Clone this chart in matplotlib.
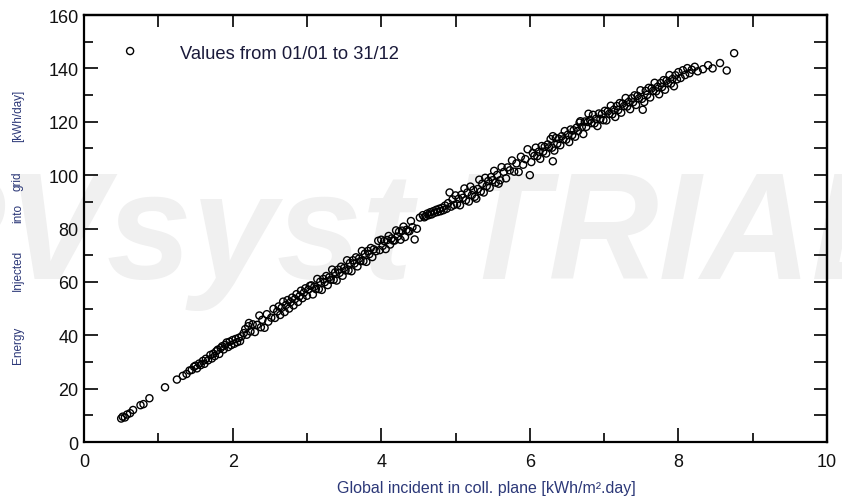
import matplotlib
matplotlib.use("Agg")
import matplotlib.pyplot as plt
from matplotlib.ticker import MultipleLocator

plt.rcParams["font.family"] = ["Liberation Sans", "DejaVu Sans"]

# daily values: global incident irradiation vs energy to grid
irrad = [
    0.50, 0.52, 0.55, 0.58, 0.62, 0.66, 0.76, 0.80, 0.88, 1.09, 1.25, 1.33,
    1.38, 1.42, 1.45, 1.48, 1.50, 1.52, 1.55, 1.57, 1.60, 1.62,
    1.64, 1.67, 1.70, 1.72, 1.74, 1.76, 1.78, 1.80, 1.82, 1.84,
    1.86, 1.88, 1.90, 1.92, 1.94, 1.96, 1.98, 2.00, 2.02, 2.04,
    2.06, 2.08, 2.10, 2.12, 2.15, 2.17, 2.19, 2.21, 2.22, 2.24,
    2.27, 2.30, 2.33, 2.36, 2.38, 2.40, 2.43, 2.46, 2.48, 2.52,
    2.55, 2.57, 2.60, 2.62, 2.64, 2.66, 2.68, 2.70, 2.72, 2.74,
    2.76, 2.78, 2.80, 2.82, 2.84, 2.86, 2.88, 2.90, 2.92, 2.94,
    2.96, 2.98, 3.00, 3.02, 3.04,
    3.06, 3.08, 3.10, 3.12, 3.14, 3.16, 3.18, 3.20, 3.22, 3.24,
    3.26, 3.28, 3.30, 3.32, 3.34, 3.36, 3.38, 3.40, 3.42, 3.44,
    3.46, 3.48, 3.50, 3.52, 3.54, 3.56, 3.58, 3.60, 3.62, 3.64,
    3.66, 3.68, 3.70, 3.72, 3.74, 3.76, 3.78, 3.80, 3.82, 3.84,
    3.86, 3.88, 3.90, 3.93, 3.96,
    3.98, 4.00, 4.02, 4.04, 4.06, 4.08, 4.10, 4.12, 4.14, 4.16,
    4.18, 4.20, 4.22, 4.24, 4.26, 4.28, 4.30, 4.32, 4.34, 4.36,
    4.38, 4.40, 4.42, 4.45, 4.48, 4.52, 4.56, 4.58, 4.60, 4.62,
    4.64, 4.66, 4.68, 4.70, 4.72, 4.74, 4.76, 4.78, 4.80, 4.82,
    4.84, 4.86, 4.88, 4.90, 4.92, 4.94, 4.96, 4.98,
    5.00, 5.02, 5.04, 5.06, 5.08, 5.10, 5.12, 5.14, 5.16, 5.18,
    5.20, 5.22, 5.24, 5.26, 5.28, 5.30, 5.32, 5.34, 5.36, 5.38,
    5.40, 5.42, 5.44, 5.46, 5.48, 5.50, 5.52, 5.54, 5.56, 5.58,
    5.60, 5.62, 5.65, 5.68, 5.70, 5.73, 5.76, 5.79, 5.82, 5.85,
    5.88, 5.91, 5.94, 5.97, 6.00,
    6.02, 6.04, 6.06, 6.08, 6.10, 6.12, 6.14, 6.16, 6.18, 6.20,
    6.22, 6.24, 6.26, 6.28, 6.30, 6.31, 6.33, 6.35, 6.37, 6.39,
    6.41, 6.43, 6.45, 6.47, 6.49, 6.51, 6.53, 6.55, 6.57, 6.59,
    6.61, 6.63, 6.65, 6.67, 6.68, 6.70, 6.72, 6.74, 6.76, 6.78,
    6.79, 6.81, 6.83, 6.85, 6.87, 6.89, 6.91, 6.93, 6.95, 6.97,
    6.99, 6.31,
    7.01, 7.03, 7.05, 7.07, 7.09, 7.11, 7.13, 7.15, 7.17, 7.19,
    7.21, 7.23, 7.25, 7.27, 7.29, 7.31, 7.33, 7.35, 7.37, 7.39,
    7.41, 7.43, 7.45, 7.47, 7.49, 7.51, 7.52, 7.54, 7.56, 7.58,
    7.60, 7.62, 7.64, 7.66, 7.68, 7.70, 7.72, 7.74, 7.76, 7.78,
    7.80, 7.82, 7.84, 7.86, 7.88, 7.90, 7.92, 7.94, 7.96, 7.98,
    8.00, 8.03, 8.06, 8.09, 8.12, 8.15, 8.18, 8.22, 8.26, 8.33,
    8.40, 8.46, 8.56, 8.65, 8.75,
]
e_grid = [
    8.8, 9.5, 9.2, 10.3, 10.8, 12.0, 13.8, 14.2, 16.4, 20.5, 23.4, 24.8,
    25.5, 26.8, 27.0, 28.2, 28.6, 27.6, 29.4, 28.8, 30.4, 29.3,
    31.2, 30.6, 32.6, 31.3, 33.1, 32.2, 34.0, 34.6, 33.0, 35.2,
    35.9, 34.7, 36.4, 37.3, 35.6, 37.6, 36.3, 38.2, 36.8, 38.6,
    37.4, 39.0, 37.8, 39.6, 40.8, 42.3, 40.2, 43.4, 44.6, 41.4,
    44.1, 41.2, 43.9, 47.4, 43.0, 45.8, 42.8, 47.9, 45.1, 46.6,
    49.9, 46.5, 48.9, 50.8, 47.6, 50.3, 52.6, 48.7, 51.4, 53.2,
    50.0, 52.4, 54.1, 51.2, 53.6, 55.4, 52.5, 54.6, 56.7, 53.9,
    56.0, 57.6, 54.8, 57.1, 58.5,
    58.7, 55.3, 58.2, 57.3, 61.1, 57.3, 60.1, 57.0, 61.1, 59.9,
    62.2, 58.8, 61.7, 60.8, 64.6, 60.8, 63.6, 60.5, 64.6, 63.4,
    65.7, 62.3, 65.2, 64.3, 68.1, 64.3, 67.1, 64.0, 68.1, 66.9,
    69.2, 65.8, 68.7, 67.8, 71.6, 67.8, 70.6, 67.5, 71.6, 70.4,
    72.7, 69.3, 72.2, 71.5, 75.4,
    71.9, 75.8, 73.5, 75.3, 72.3, 75.7, 77.2, 74.0, 76.3, 75.5,
    75.5, 79.3, 77.0, 78.8, 75.8, 79.2, 80.7, 76.8, 79.5, 79.0,
    79.0, 82.8, 80.5, 75.9, 79.9, 84.1, 85.0, 84.2, 84.6, 85.6,
    85.0, 86.1, 85.3, 86.5, 85.9, 87.0, 86.2, 87.4, 86.5, 87.8,
    86.9, 88.6, 87.4, 89.5, 93.5, 88.2, 90.9, 88.8,
    92.4, 89.2, 91.1, 88.7, 92.7, 91.5, 95.0, 90.6, 93.5, 90.1,
    95.7, 92.5, 94.4, 91.9, 91.2, 94.8, 98.3, 93.9, 96.8, 93.5,
    99.0, 95.9, 97.8, 95.3, 99.3, 98.1, 101.6, 97.2, 100.1, 96.8,
    98.1, 103.0, 101.2, 98.8, 102.9, 101.8, 105.5, 101.3, 104.4, 101.2,
    106.9, 103.9, 106.0, 109.7, 100.0,
    104.9, 108.3, 107.2, 110.3, 107.1, 108.8, 106.1, 110.9, 108.8, 110.6,
    108.1, 111.5, 110.4, 113.5, 110.3, 114.6, 109.2, 113.9, 111.8, 113.6,
    111.2, 114.6, 113.4, 116.5, 113.3, 115.1, 112.4, 117.1, 115.0, 116.8,
    114.4, 117.8, 116.6, 119.7, 120.2, 118.1, 115.4, 120.1, 118.1, 119.9,
    123.0, 120.7, 119.5, 122.6, 119.4, 121.1, 118.4, 123.1, 121.1, 122.9,
    120.6, 105.2,
    124.1, 120.5, 123.9, 123.0, 126.0, 122.8, 124.5, 121.8, 125.9, 124.4,
    127.0, 123.4, 126.8, 125.9, 128.9, 125.7, 127.4, 124.7, 128.8, 127.3,
    129.9, 126.3, 129.7, 128.8, 131.8, 128.6, 124.5, 127.4, 131.6, 130.1,
    132.7, 129.1, 132.5, 131.6, 134.6, 131.4, 133.1, 130.3, 134.5, 133.0,
    135.6, 132.0, 135.4, 134.5, 137.5, 134.3, 136.0, 133.3, 137.4, 135.9,
    138.6, 136.4, 139.3, 137.5, 140.1, 138.2, 139.5, 140.6, 138.9, 139.7,
    141.2, 140.0, 142.0, 139.2, 145.7,
]

x_ticks = [0, 2, 4, 6, 8, 10]
y_ticks = [0, 20, 40, 60, 80, 100, 120, 140, 160]
label_words = ["Energy", "Injected", "into", "grid", "[kWh/day]"]
legend_text = "Values from 01/01 to 31/12"

LABEL_COLOR = "#2c3878"

fig = plt.figure(figsize=(8.42, 5.02), dpi=100)
fig.patch.set_facecolor("white")

# trial watermark behind everything
fig.text(-0.115, 0.445, "PVsyst TRIAL", fontsize=110, fontweight="bold",
         style="italic", color="#f0f0f0", ha="left", va="baseline", zorder=-1)

ax = fig.add_axes([0.0998, 0.1175, 0.8824, 0.8506])
ax.patch.set_alpha(0)

ax.scatter(irrad, e_grid, s=26, facecolors="none", edgecolors="black",
           linewidths=1.0, zorder=3)

ax.set_xlim(0, 10)
ax.set_ylim(0, 160)
ax.set_xticks(x_ticks)
ax.set_yticks(y_ticks)
ax.xaxis.set_minor_locator(MultipleLocator(1))
ax.yaxis.set_minor_locator(MultipleLocator(10))
ax.tick_params(which="major", direction="in", length=10, width=1.2,
               labelsize=13, labelcolor="#111111")
ax.tick_params(which="minor", direction="in", length=6.5, width=1.2)
ax.tick_params(axis="x", which="major", pad=8)
ax.tick_params(axis="y", which="major", pad=4)
for sp in ax.spines.values():
    sp.set_linewidth(1.6)

# top and right ticks, all same length
top = ax.secondary_xaxis("top")
top.set_xticks(range(1, 10))
top.tick_params(direction="in", length=8.5, width=1.2, labeltop=False)
top.spines["top"].set_linewidth(1.6)
right = ax.secondary_yaxis("right")
right.set_yticks(range(10, 160, 10))
right.tick_params(direction="in", length=9.5, width=1.2, labelright=False)
right.spines["right"].set_linewidth(1.6)

fig.text(486 / 842, 1 - 489 / 502, "Global incident in coll. plane [kWh/m\u00b2.day]",
         fontsize=11.5, color=LABEL_COLOR, ha="center", va="center")

# y label is spread out word by word like the original
word_y = [345, 270, 213, 181, 116]
for w, py in zip(label_words, word_y):
    fig.text(18 / 842, 1 - py / 502, w, rotation=90, fontsize=8.5,
             color=LABEL_COLOR, ha="center", va="center")

# legend-like note
ax.scatter([0.62], [146.5], s=26, facecolors="none", edgecolors="black",
           linewidths=1.0, zorder=3)
ax.text(1.29, 145.4, legend_text, fontsize=13.2, color="#1a1a3a",
        ha="left", va="center")

fig.savefig("out.png", dpi=100)
